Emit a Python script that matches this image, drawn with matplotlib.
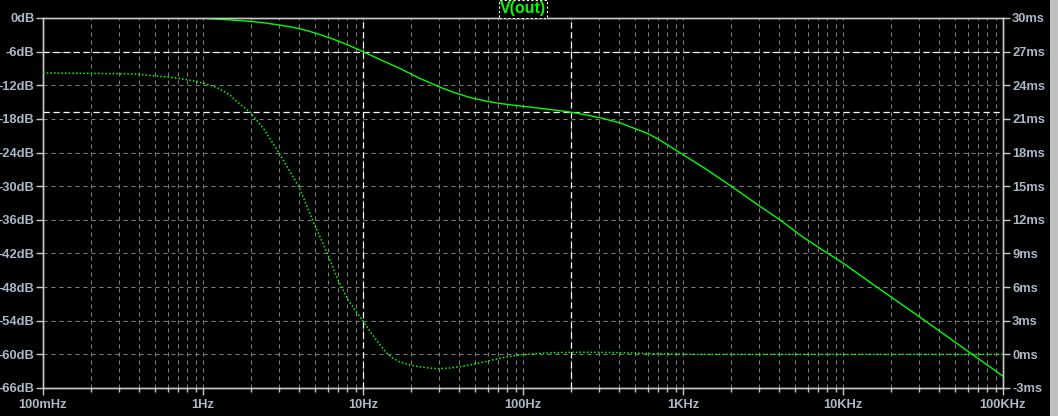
import numpy as np
import matplotlib
matplotlib.use("Agg")
from matplotlib import pyplot as plt
from matplotlib.patches import Rectangle
from matplotlib.ticker import FixedLocator, NullFormatter

# Magnitude trace (solid), dB
mag_f = [0.1, 0.5, 0.8, 1.0, 1.41, 1.88, 2.4, 2.9, 3.4, 4.0, 4.6, 5.3, 6.2, 7.2, 8.5, 10, 13, 17,
         22, 30, 38, 47, 58, 72, 90, 115, 150, 200, 250, 303, 404, 487, 600, 700, 917, 1400, 2024,
         3029, 4037, 5500, 7943, 9860, 16300, 32550, 64940, 100000]
mag_db = [0.0, 0.0, -0.02, -0.05, -0.3, -0.55, -0.85, -1.2, -1.5, -1.9, -2.35, -2.9, -3.55,
          -4.25, -5.1, -6.0, -7.5, -9.0, -10.6, -12.3, -13.4, -14.2, -14.8, -15.25, -15.6, -15.95,
          -16.35, -16.8, -17.3, -17.8, -18.7, -19.6, -20.6, -21.6, -23.7, -27.0, -30.1, -33.6,
          -36.0, -38.9, -41.9, -43.6, -48.0, -54.0, -60.1, -63.9]

# Group delay trace (dotted), ms
gd_f = [0.1, 0.227, 0.387, 0.487, 0.622, 0.794, 1.0, 1.22, 1.47, 1.58, 1.97, 2.4, 2.99, 3.98,
        4.87, 5.96, 6.98, 8.06, 10, 11.2, 12.6, 14, 15.2, 17, 20, 22.7, 27, 30.3, 35, 40, 46.6,
        54, 62.2, 72, 83, 100, 128, 160, 197, 300, 404, 538, 718, 1000, 1277, 100000]
gd_ms = [25.1, 25.05, 25.0, 24.85, 24.72, 24.5, 24.2, 23.8, 23.15, 22.7, 21.6, 20.1, 17.96, 14.93,
         11.9, 9.05, 6.64, 4.85, 2.97, 1.95, 0.95, 0.15, -0.3, -0.68, -0.98, -1.12, -1.24, -1.27,
         -1.22, -1.1, -0.95, -0.75, -0.55, -0.35, -0.18, -0.02, 0.09, 0.15, 0.18, 0.18, 0.15, 0.1,
         0.05, 0.02, 0.0, 0.0]

db_ticks = [0, -6, -12, -18, -24, -30, -36, -42, -48, -54, -60, -66]
ms_ticks = [30, 27, 24, 21, 18, 15, 12, 9, 6, 3, 0, -3]
f_ticks = [0.1, 1, 10, 100, 1000, 10000, 100000]
f_labels = ["100mHz", "1Hz", "10Hz", "100Hz", "1KHz", "10KHz", "100KHz"]

cursor_f = [10, 200]
cursor_db = [-6.0, -16.8]

txt = "#aab8c8"
frame = "#c8c8c8"
green = "#00ff00"
plt.rcParams['font.family'] = ['Liberation Sans', 'DejaVu Sans']

fig = plt.figure(figsize=(10.58, 4.16), dpi=100, facecolor="black")
ax = fig.add_axes([43/1058, 28/416, 960/1058, 370/416])
ax.set_facecolor("black")
ax2 = ax.twinx()

ax.set_xscale("log")
ax.set_xlim(0.1, 100000)
ax.set_ylim(-66, 0)
ax2.set_ylim(-3, 30)

minors = [m * 10.0**e for e in range(-1, 5) for m in range(2, 10)]
ax.xaxis.set_major_locator(FixedLocator(f_ticks))
ax.xaxis.set_minor_locator(FixedLocator(minors))
ax.xaxis.set_minor_formatter(NullFormatter())
ax.set_xticklabels(f_labels)
ax.set_yticks(db_ticks)
ax.set_yticklabels([f"{v}dB" for v in db_ticks])
ax2.set_yticks(ms_ticks)
ax2.set_yticklabels([f"{v}ms" for v in ms_ticks])

for a in (ax, ax2):
    for s in a.spines.values():
        s.set_color(frame)
        s.set_linewidth(1.0)
ax.tick_params(axis="both", which="major", colors=frame, labelcolor=txt, length=5,
               width=1.0, labelsize=9.3, pad=1.2)
ax.tick_params(axis="x", which="minor", colors=frame, length=3, width=1.0)
ax.tick_params(axis="x", which="major", pad=3)
ax2.tick_params(axis="y", colors=frame, labelcolor=txt, length=5, width=1.0,
                labelsize=9.3, pad=1.5)
for lbl in ax.get_xticklabels() + ax.get_yticklabels() + ax2.get_yticklabels():
    lbl.set_fontweight("bold")

# grid
ax.grid(True, which="major", axis="both", color="#808080", linestyle=(0, (4, 4)), linewidth=0.72)
ax.grid(True, which="minor", axis="x", color="#808080", linestyle=(0, (4, 4)), linewidth=0.72)

# cursors
for f in cursor_f:
    ax.axvline(f, color="white", linestyle=(0, (5, 3)), linewidth=0.9, zorder=3)
for d in cursor_db:
    ax.axhline(d, color="white", linestyle=(0, (5, 3)), linewidth=0.9, zorder=3)

# traces
ax.plot(mag_f, mag_db, color=green, linewidth=1.0, zorder=4)
ax2.plot(gd_f, gd_ms, color=green, linewidth=1.1, linestyle=(0, (1, 1.4)), zorder=4)

ax.set_zorder(ax2.get_zorder() - 1)
ax2.patch.set_visible(False)
ax.patch.set_visible(True)

# title label
fig.text(523/1058, 1 - 9/416, "V(out)", color=green, fontsize=11.5, fontweight="bold",
         ha="center", va="center",
         bbox=dict(boxstyle="square,pad=0.08", facecolor="black", edgecolor="white",
                   linestyle=(0, (2, 2)), linewidth=0.8))

# window scrollbar strip
fig.patches.append(Rectangle((1050/1058, 0), 8/1058, 1, transform=fig.transFigure,
                             facecolor="#c0c0c0", edgecolor="none"))

fig.savefig("out.png", dpi=100, facecolor="black")
